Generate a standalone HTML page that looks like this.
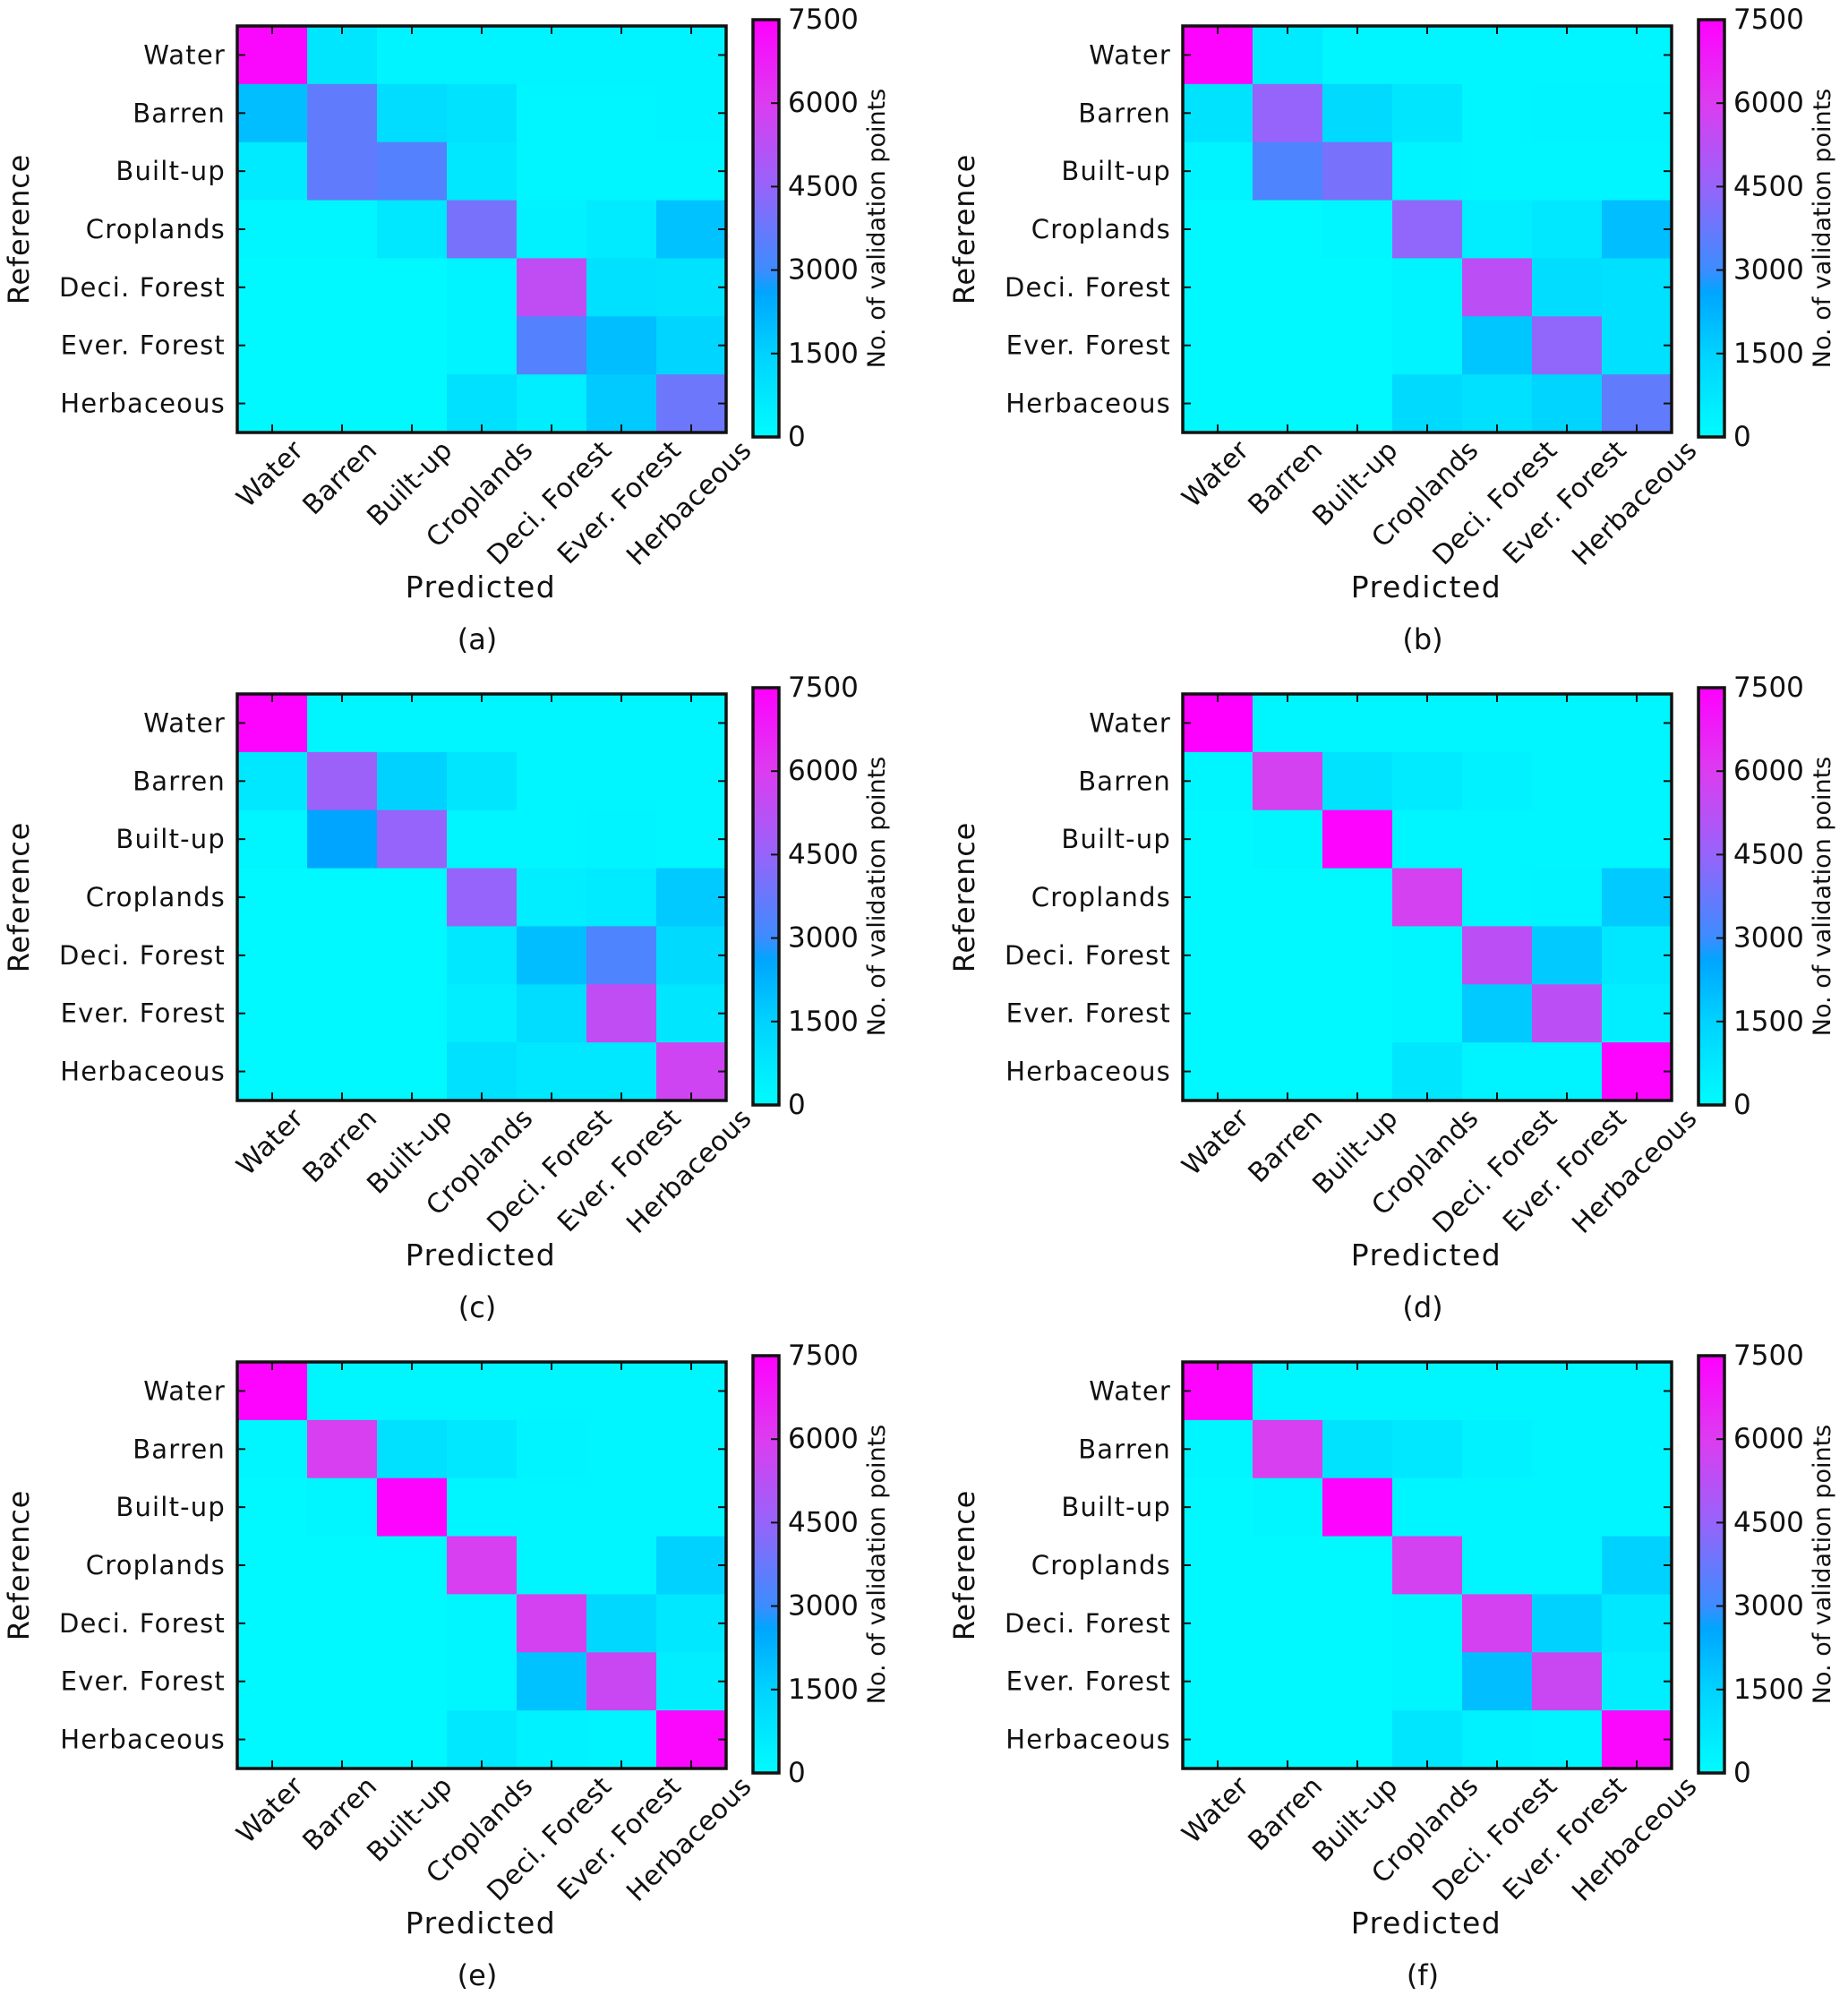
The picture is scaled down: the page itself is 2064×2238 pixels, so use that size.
<!DOCTYPE html>
<html><head><meta charset="utf-8">
<style>
html,body{margin:0;padding:0;background:#fff;}
svg{display:block;}
text{font-family:"DejaVu Sans","Liberation Sans",sans-serif;fill:#111;}
</style></head>
<body>
<svg id="fig" width="2064" height="2238" viewBox="0 0 2064 2238" xmlns="http://www.w3.org/2000/svg"></svg>
<script>
const categories = ["Water","Barren","Built-up","Croplands","Deci. Forest","Ever. Forest","Herbaceous"];
const colorbarTicks = [0,1500,3000,4500,6000,7500];
const panelLabels = ["(a)","(b)","(c)","(d)","(e)","(f)"];
const matrixA = [
 [7300,800,300,300,300,300,300],
 [2000,3600,1100,900,200,200,300],
 [600,3600,3400,700,200,200,200],
 [200,200,700,4000,400,600,1900],
 [100,100,100,300,5400,1000,900],
 [100,100,100,300,3400,2000,1400],
 [100,100,100,1000,500,1700,3800]];
const matrixB = [
 [7400,600,200,200,200,200,200],
 [900,4500,1200,800,200,300,300],
 [300,3300,4000,300,200,200,200],
 [100,100,200,4400,500,700,2000],
 [100,100,100,300,5300,1100,1000],
 [100,100,100,300,1800,4400,1000],
 [100,100,100,1200,1000,1400,3600]];
const matrixC = [
 [7400,200,200,200,200,200,200],
 [700,4600,1500,800,200,200,200],
 [200,2600,4500,200,200,300,200],
 [100,100,100,4500,500,600,1700],
 [100,100,100,700,2000,3300,1200],
 [100,100,100,500,1100,5400,800],
 [100,100,100,1000,700,700,5700]];
const matrixD = [
 [7500,200,200,200,200,200,200],
 [200,5800,900,600,400,200,200],
 [100,200,7400,200,200,200,200],
 [100,100,100,5800,200,300,1700],
 [100,100,100,200,5300,1700,700],
 [100,100,100,200,1700,5300,500],
 [100,100,100,800,300,300,7400]];
const matrixE = [
 [7400,200,200,200,200,200,200],
 [200,5900,1000,700,300,200,200],
 [100,200,7400,200,200,200,200],
 [100,100,100,5900,200,200,1500],
 [100,100,100,200,5800,1300,700],
 [100,100,100,200,1900,5600,500],
 [100,100,100,700,400,300,7300]];
const matrixF = [
 [7400,200,200,200,200,200,200],
 [200,5900,900,700,400,200,200],
 [100,200,7400,200,200,200,200],
 [100,100,100,5800,200,200,1500],
 [100,100,100,200,5800,1500,700],
 [100,100,100,200,2000,5600,500],
 [100,100,100,800,400,300,7300]];
const matrices = [matrixA,matrixB,matrixC,matrixD,matrixE,matrixF];

const VMAX = 7500;
const stops = [[0,[0,252,255]],[1500,[0,210,255]],[2600,[0,165,255]],[3000,[60,140,255]],[4500,[150,100,250]],[6000,[220,60,240]],[7500,[255,0,255]]];
function color(v){
  v=Math.max(0,Math.min(VMAX,v));
  for(let i=1;i<stops.length;i++){
    if(v<=stops[i][0]){
      const a=stops[i-1],b=stops[i],t=(v-a[0])/(b[0]-a[0]);
      const c=a[1].map((x,k)=>Math.round(x+(b[1][k]-x)*t));
      return `rgb(${c[0]},${c[1]},${c[2]})`;
    }
  }
  return 'rgb(255,0,255)';
}
const NS="http://www.w3.org/2000/svg";
const svg=document.getElementById('fig');
function mk(tag,attrs,parent,text){
  const e=document.createElementNS(NS,tag);
  for(const k in attrs)e.setAttribute(k,attrs[k]);
  if(text!==undefined)e.textContent=text;
  (parent||svg).appendChild(e);return e;
}
const defs=mk('defs',{});
const grad=mk('linearGradient',{id:'cb',x1:'0',y1:'1',x2:'0',y2:'0'},defs);
stops.forEach(s=>mk('stop',{offset:s[0]/VMAX,'stop-color':color(s[0])},grad));

const PW=546,PH=454,n=categories.length,cw=PW/n,ch=PH/n;
const XFS=30, XH=XFS*0.75;
matrices.forEach((m,pi)=>{
  const ox=265+(pi%2)*1056, oy=29+Math.floor(pi/2)*746;
  const g=mk('g',{});
  
  
  const xs=j=>ox+j*cw, ys=i=>oy+i*ch;
  m.forEach((row,i)=>row.forEach((v,j)=>{
    const r=mk('rect',{x:xs(j),y:ys(i),width:cw+0.5,height:ch+0.5,fill:color(v)},g);
    
    
  }));
  for(let k=0;k<n;k++){
    const cx=xs(k)+cw/2, cy=ys(k)+ch/2;
    mk('line',{x1:cx,y1:oy,x2:cx,y2:oy+9,stroke:'#111','stroke-width':2},g);
    mk('line',{x1:cx,y1:oy+PH,x2:cx,y2:oy+PH-9,stroke:'#111','stroke-width':2},g);
    mk('line',{x1:ox,y1:cy,x2:ox+9,y2:cy,stroke:'#111','stroke-width':2},g);
    mk('line',{x1:ox+PW,y1:cy,x2:ox+PW-9,y2:cy,stroke:'#111','stroke-width':2},g);
    const yl=mk('text',{x:ox-13,y:cy+10,'text-anchor':'end','font-size':29,'letter-spacing':1.2},g,categories[k]);
    
    
    const xl=mk('text',{x:0,y:XFS*0.36,'text-anchor':'middle','font-size':XFS,'letter-spacing':0.3},g,categories[k]);
    
    
    const w=xl.getComputedTextLength();
    const bb=(w+XH)*0.7071;
    xl.setAttribute('transform',`translate(${cx-3},${oy+PH+6+bb/2}) rotate(-45)`);
  }
  mk('rect',{x:ox,y:oy,width:PW,height:PH,fill:'none',stroke:'#111','stroke-width':3.5},g);
  const yt=mk('text',{x:0,y:0,'text-anchor':'middle','font-size':32,'letter-spacing':0.8,transform:`translate(${ox-233},${oy+PH/2}) rotate(-90)`},g,'Reference');
  
  
  const xt=mk('text',{x:ox+272,y:oy+638,'text-anchor':'middle','font-size':33,'letter-spacing':1.5},g,'Predicted');
  
  
  const pl=mk('text',{x:ox+268,y:oy+696,'text-anchor':'middle','font-size':32},g,panelLabels[pi]);
  
  
  const bx=ox+576, by=oy-7, bw=29, bh=466;
  const cb=mk('rect',{x:bx,y:by,width:bw,height:bh,fill:'url(#cb)',stroke:'#111','stroke-width':3.5},g);
  
  
  const cy=v=>by+bh-v/VMAX*bh;
  colorbarTicks.forEach(t=>{
    if(t>0&&t<VMAX) mk('line',{x1:bx+bw,y1:cy(t),x2:bx+bw-9,y2:cy(t),stroke:'#111','stroke-width':2},g);
    const tl=mk('text',{x:bx+bw+10,y:cy(t)+10,'font-size':31},g,String(t));
    
    
  });
  const ct=mk('text',{x:0,y:0,'text-anchor':'middle','font-size':27,transform:`translate(${bx+147},${oy+226}) rotate(-90)`},g,'No. of validation points');
  
  
});
</script>
</body></html>
